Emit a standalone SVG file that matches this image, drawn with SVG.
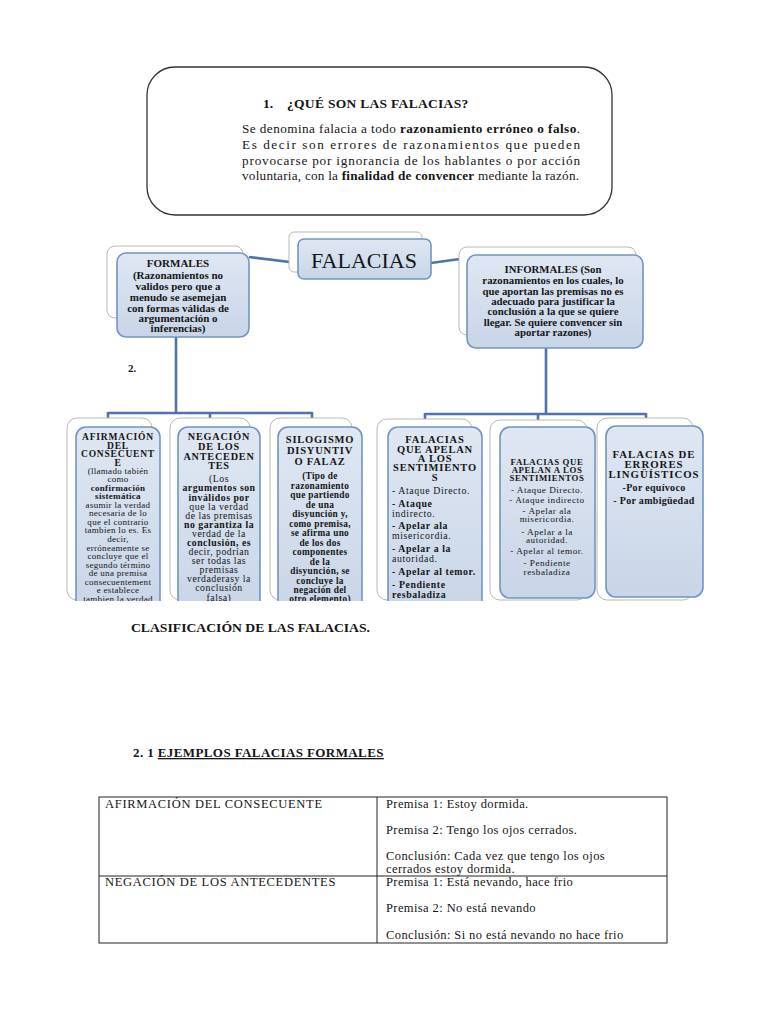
<svg xmlns="http://www.w3.org/2000/svg" width="768" height="1024" viewBox="0 0 768 1024">
<defs>
<linearGradient id="bl" x1="0" y1="0" x2="0" y2="1">
<stop offset="0" stop-color="#dfe7f2"/>
<stop offset="1" stop-color="#c8d5e8"/>
</linearGradient>
<clipPath id="clip"><rect x="0" y="0" width="768" height="601"/></clipPath>
<style>
text{font-family:"Liberation Serif","Times New Roman",serif;fill:#151515}
.b{font-weight:bold}
.c{text-anchor:middle}
.back{fill:#fff;stroke:#b8b8b8;stroke-width:1}
.front{fill:url(#bl);stroke:#7394c3;stroke-width:1.6}
.conn{fill:none;stroke:#4e74a8;stroke-width:2.6}
.tbl{fill:none;stroke:#222;stroke-width:1}
</style>
</defs>
<rect width="768" height="1024" fill="#fff"/>

<g id="intro">
<rect x="147" y="67" width="465" height="148" rx="28" fill="#fff" stroke="#333" stroke-width="1.3"/>
<text x="263" y="108" class="b" font-size="13.5">1.</text>
<text x="287" y="108" class="b" font-size="13.5" letter-spacing="0.3">¿QUÉ SON LAS FALACIAS?</text>
<text x="242" y="133" font-size="13.2" textLength="338" lengthAdjust="spacing">Se denomina falacia a todo <tspan class="b">razonamiento erróneo o falso</tspan>.</text>
<text x="242" y="149" font-size="13.2" textLength="338" lengthAdjust="spacing">Es decir son errores de razonamientos que pueden</text>
<text x="242" y="165" font-size="13.2" textLength="338" lengthAdjust="spacing">provocarse por ignorancia de los hablantes o por acción</text>
<text x="242" y="180" font-size="13.2" textLength="337" lengthAdjust="spacing">voluntaria, con la <tspan class="b">finalidad de convencer</tspan> mediante la razón.</text>
</g>

<g id="connectors">
<path class="conn" d="M249 257 L298 263"/>
<path class="conn" d="M431 263 L467 258"/>
<path class="conn" d="M176 337 V413 M108 413 H312 M108 412 V419 M210 412 V419 M312 412 V419"/>
<path class="conn" d="M546 348 V414 M425 414 H646 M425 413 V420 M538 413 V420 M646 413 V420"/>
</g>

<g id="falacias">
<rect class="back" x="289" y="232" width="133" height="40" rx="5"/>
<rect class="front" x="298" y="239" width="133" height="40" rx="6"/>
<text x="364" y="268" class="c" font-size="22">FALACIAS</text>
</g>

<g id="formales">
<rect class="back" x="107" y="246" width="136" height="72" rx="8"/>
<rect class="front" x="117" y="253" width="132" height="84" rx="9"/>
<g font-size="11" class="c b">
<text x="178" y="267">FORMALES</text>
<text x="178" y="279">(Razonamientos no</text>
<text x="178" y="290">validos pero que a</text>
<text x="178" y="301">menudo se asemejan</text>
<text x="178" y="312">con formas válidas de</text>
<text x="178" y="322">argumentación o</text>
<text x="178" y="332">inferencias)</text>
</g>
</g>

<g id="informales">
<rect class="back" x="459" y="247" width="177" height="88" rx="8"/>
<rect class="front" x="467" y="255" width="176" height="93" rx="9"/>
<g font-size="10.8" class="c b">
<text x="553" y="273">INFORMALES (Son</text>
<text x="553" y="284">razonamientos en los cuales, lo</text>
<text x="553" y="295">que aportan las premisas no es</text>
<text x="553" y="305">adecuado para justificar la</text>
<text x="553" y="315">conclusión a la que se quiere</text>
<text x="553" y="326">llegar. Se quiere convencer sin</text>
<text x="553" y="336">aportar razones)</text>
</g>
</g>

<text x="128" y="372" class="b" font-size="11">2.</text>

<g clip-path="url(#clip)">
<g id="afirmacion">
<rect class="back" x="67" y="418" width="85" height="182" rx="10"/>
<rect class="front" x="76" y="427" width="84" height="190" rx="10"/>
<g class="c b" font-size="9.5" letter-spacing="0.8">
<text x="118" y="440">AFIRMACIÓN</text>
<text x="118" y="449">DEL</text>
<text x="118" y="457">CONSECUENT</text>
<text x="118" y="466">E</text>
</g>
<g class="c" font-size="9" letter-spacing="0.3">
<text x="118" y="474">(llamado tabién</text>
<text x="118" y="482">como</text>
<text x="118" y="491" class="b">confirmación</text>
<text x="118" y="499" class="b">sistemática</text>
<text x="118" y="508">asumir la verdad</text>
<text x="118" y="516">necesaria de lo</text>
<text x="118" y="525">que el contrario</text>
<text x="118" y="533">tambien lo es. Es</text>
<text x="118" y="542">decir,</text>
<text x="118" y="551">erróneamente se</text>
<text x="118" y="559">concluye que el</text>
<text x="118" y="568">segundo término</text>
<text x="118" y="576">de una premisa</text>
<text x="118" y="585">consecuentement</text>
<text x="118" y="593">e establece</text>
<text x="118" y="602">tambien la verdad</text>
</g>
</g>

<g id="negacion">
<rect class="back" x="170" y="418" width="80" height="182" rx="10"/>
<rect class="front" x="178" y="427" width="82" height="190" rx="10"/>
<g class="c b" font-size="10.2" letter-spacing="0.8">
<text x="219" y="440">NEGACIÓN</text>
<text x="219" y="450">DE LOS</text>
<text x="219" y="460">ANTECEDEN</text>
<text x="219" y="469">TES</text>
</g>
<g class="c" font-size="9.8" letter-spacing="0.5">
<text x="219" y="482">(Los</text>
<text x="219" y="491" class="b">argumentos son</text>
<text x="219" y="501" class="b">inválidos por</text>
<text x="219" y="510">que la verdad</text>
<text x="219" y="519">de las premisas</text>
<text x="219" y="528" class="b">no garantiza la</text>
<text x="219" y="537">verdad de la</text>
<text x="219" y="546" class="b">conclusión, es</text>
<text x="219" y="555">decir, podrían</text>
<text x="219" y="564">ser todas las</text>
<text x="219" y="573">premisas</text>
<text x="219" y="582">verdaderasy la</text>
<text x="219" y="591">conclusión</text>
<text x="219" y="601">falsa)</text>
</g>
</g>

<g id="silogismo">
<rect class="back" x="270" y="418" width="82" height="182" rx="10"/>
<rect class="front" x="278" y="427" width="84" height="190" rx="10"/>
<g class="c b" font-size="10.5" letter-spacing="0.8">
<text x="320" y="443">SILOGISMO</text>
<text x="320" y="454">DISYUNTIV</text>
<text x="320" y="465">O FALAZ</text>
</g>
<g class="c b" font-size="9.3" letter-spacing="0.3">
<text x="320" y="479">(Tipo de</text>
<text x="320" y="489">razonamiento</text>
<text x="320" y="498">que partiendo</text>
<text x="320" y="508">de una</text>
<text x="320" y="517">disyunción y,</text>
<text x="320" y="527">como premisa,</text>
<text x="320" y="536">se afirma uno</text>
<text x="320" y="546">de los dos</text>
<text x="320" y="555">componentes</text>
<text x="320" y="565">de la</text>
<text x="320" y="574">disyunción, se</text>
<text x="320" y="584">concluye la</text>
<text x="320" y="593">negación del</text>
<text x="320" y="602">otro elemento)</text>
</g>
</g>

<g id="sentimientos1">
<rect class="back" x="377" y="419" width="95" height="181" rx="10"/>
<rect class="front" x="388" y="427" width="94" height="190" rx="10"/>
<g class="c b" font-size="10.5" letter-spacing="0.8">
<text x="435" y="443">FALACIAS</text>
<text x="435" y="453">QUE APELAN</text>
<text x="435" y="462">A LOS</text>
<text x="435" y="471">SENTIMIENTO</text>
<text x="435" y="481">S</text>
</g>
<g font-size="9.8" letter-spacing="0.6">
<text x="392" y="494">- Ataque Directo.</text>
<text x="392" y="507" class="b">- Ataque</text>
<text x="392" y="517">indirecto.</text>
<text x="392" y="529" class="b">- Apelar ala</text>
<text x="392" y="539">misericordia.</text>
<text x="392" y="552" class="b">- Apelar a la</text>
<text x="392" y="562">autoridad.</text>
<text x="392" y="575" class="b">- Apelar al temor.</text>
<text x="392" y="588" class="b">- Pendiente</text>
<text x="392" y="598" class="b">resbaladiza</text>
</g>
</g>

<g id="sentimientos2">
<rect class="back" x="490" y="420" width="97" height="180" rx="10"/>
<rect class="front" x="500" y="427" width="95" height="171" rx="10"/>
<g class="c b" font-size="8.8" letter-spacing="0.6">
<text x="547" y="465">FALACIAS QUE</text>
<text x="547" y="473">APELAN A LOS</text>
<text x="547" y="481">SENTIMIENTOS</text>
</g>
<g class="c" font-size="9.2" letter-spacing="0.5">
<text x="547" y="493">- Ataque Directo.</text>
<text x="547" y="503">- Ataque indirecto</text>
<text x="547" y="514">- Apelar ala</text>
<text x="547" y="522">misericordia.</text>
<text x="547" y="535">- Apelar a la</text>
<text x="547" y="543">autoridad.</text>
<text x="547" y="554">- Apelar al temor.</text>
<text x="547" y="566">- Pendiente</text>
<text x="547" y="575">resbaladiza</text>
</g>
</g>

<g id="linguisticos">
<rect class="back" x="597" y="418" width="96" height="182" rx="10"/>
<rect class="front" x="606" y="426" width="97" height="171" rx="10"/>
<g class="c b" font-size="10.8" letter-spacing="1">
<text x="654" y="458">FALACIAS DE</text>
<text x="654" y="468">ERRORES</text>
<text x="654" y="478">LINGÜÍSTICOS</text>
</g>
<g class="c b" font-size="10" letter-spacing="0.3">
<text x="654" y="491">-Por equívoco</text>
<text x="654" y="504">- Por ambigüedad</text>
</g>
</g>
</g>

<text x="131" y="632" class="b" font-size="12.5" textLength="239" lengthAdjust="spacingAndGlyphs">CLASIFICACIÓN DE LAS FALACIAS.</text>

<text x="133" y="757" class="b" font-size="13" letter-spacing="0.4">2. 1 <tspan text-decoration="underline">EJEMPLOS FALACIAS FORMALES </tspan></text>

<g id="tabla">
<rect class="tbl" x="99" y="797" width="568" height="146"/>
<line class="tbl" x1="377" y1="797" x2="377" y2="943"/>
<line class="tbl" x1="99" y1="876" x2="667" y2="876"/>
<g font-size="12.5" letter-spacing="0.4">
<text x="105" y="808" letter-spacing="0.7">AFIRMACIÓN DEL CONSECUENTE</text>
<text x="386" y="808">Premisa 1: Estoy dormida.</text>
<text x="386" y="834">Premisa 2: Tengo los ojos cerrados.</text>
<text x="386" y="860">Conclusión: Cada vez que tengo los ojos</text>
<text x="386" y="873">cerrados estoy dormida.</text>
<text x="105" y="886" letter-spacing="0.7">NEGACIÓN DE LOS ANTECEDENTES</text>
<text x="386" y="886">Premisa 1: Está nevando, hace frio</text>
<text x="386" y="912">Premisa 2: No está nevando</text>
<text x="386" y="939">Conclusión: Si no está nevando no hace frio</text>
</g>
</g>
</svg>
